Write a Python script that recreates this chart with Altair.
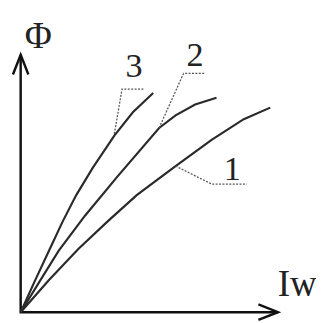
import altair as alt
import pandas as pd

# Curves (Iw, Phi) in arbitrary units
c1_x = [0, 1.10, 2.24, 3.37, 4.51, 6.02, 7.42, 8.67, 9.70]
c1_y = [0, 1.25, 2.46, 3.52, 4.55, 5.68, 6.70, 7.50, 7.95]
c2_x = [0, 0.72, 1.48, 2.50, 3.75, 5.38, 6.02, 6.78, 7.61]
c2_y = [0, 1.17, 2.39, 3.75, 5.26, 7.16, 7.65, 8.07, 8.33]
c3_x = [0, 0.53, 1.10, 1.63, 2.16, 2.80, 3.64, 4.36, 5.15]
c3_y = [0, 1.17, 2.39, 3.52, 4.55, 5.61, 6.86, 7.77, 8.52]

# Leader lines for labels
l1_x = [6.02, 7.42, 8.79]
l1_y = [5.68, 4.98, 4.98]
l2_x = [5.38, 6.33, 7.16]
l2_y = [7.16, 9.28, 9.28]
l3_x = [3.64, 3.94, 4.81]
l3_y = [6.93, 8.67, 8.67]

labels = ["1", "2", "3"]
label_x = [8.22, 6.78, 4.41]
label_y = [5.12, 9.55, 9.13]

# Axes and arrow heads
axis_x = [0, 0, 10]
axis_y = [10, 0, 0]
ay_x = [-0.30, 0, 0.30]
ay_y = [9.24, 10, 9.24]
ax_x = [9.24, 10, 9.24]
ax_y = [0.30, 0, -0.30]

axis_titles = ["Φ", "Iw"]
title_x = [0.68, 9.99]
title_y = [10.27, 0.61]


def series(name, xs, ys):
    return pd.DataFrame({"s": name, "x": xs, "y": ys, "o": range(len(xs))})


curves = pd.concat([series("1", c1_x, c1_y), series("2", c2_x, c2_y), series("3", c3_x, c3_y)])
leaders = pd.concat([series("1", l1_x, l1_y), series("2", l2_x, l2_y), series("3", l3_x, l3_y)])
axes = pd.concat([series("axis", axis_x, axis_y), series("ay", ay_x, ay_y), series("ax", ax_x, ax_y)])
lab = pd.DataFrame({"t": labels, "x": label_x, "y": label_y})
tit = pd.DataFrame({"t": axis_titles, "x": title_x, "y": title_y})

X = alt.X("x:Q", scale=alt.Scale(domain=[0, 10], nice=False, zero=False), axis=None)
Y = alt.Y("y:Q", scale=alt.Scale(domain=[0, 10], nice=False, zero=False), axis=None)

axis_layer = alt.Chart(axes).mark_line(color="#111", strokeWidth=2.5, clip=False).encode(
    x=X, y=Y, detail="s:N", order="o:Q"
)
curve_layer = alt.Chart(curves).mark_line(color="#2a2a2a", strokeWidth=2.2, clip=False).encode(
    x=X, y=Y, detail="s:N", order="o:Q"
)
leader_layer = alt.Chart(leaders).mark_line(color="#555", strokeWidth=1.3, strokeDash=[2, 1.5], clip=False).encode(
    x=X, y=Y, detail="s:N", order="o:Q"
)
label_layer = alt.Chart(lab).mark_text(
    font="Liberation Serif", fontSize=35, color="#222", baseline="alphabetic", align="center"
).encode(x=X, y=Y, text="t:N")
phi_layer = alt.Chart(tit.iloc[[0]]).mark_text(
    font="Liberation Serif", fontSize=38, color="#222", baseline="alphabetic", align="center"
).encode(x=X, y=Y, text="t:N")
iw_layer = alt.Chart(tit.iloc[[1]]).mark_text(
    font="Liberation Serif", fontSize=38, color="#222", baseline="alphabetic", align="left"
).encode(x=X, y=Y, text="t:N")

chart = alt.layer(
    axis_layer, curve_layer, leader_layer, label_layer, phi_layer, iw_layer
).properties(
    width=264,
    height=264,
    autosize=alt.AutoSizeParams(type="none"),
    padding={"left": 13, "top": 44, "right": 39, "bottom": 7},
).configure_view(stroke=None)

chart.save("out.html", embed_options={"renderer": "svg", "actions": False})
